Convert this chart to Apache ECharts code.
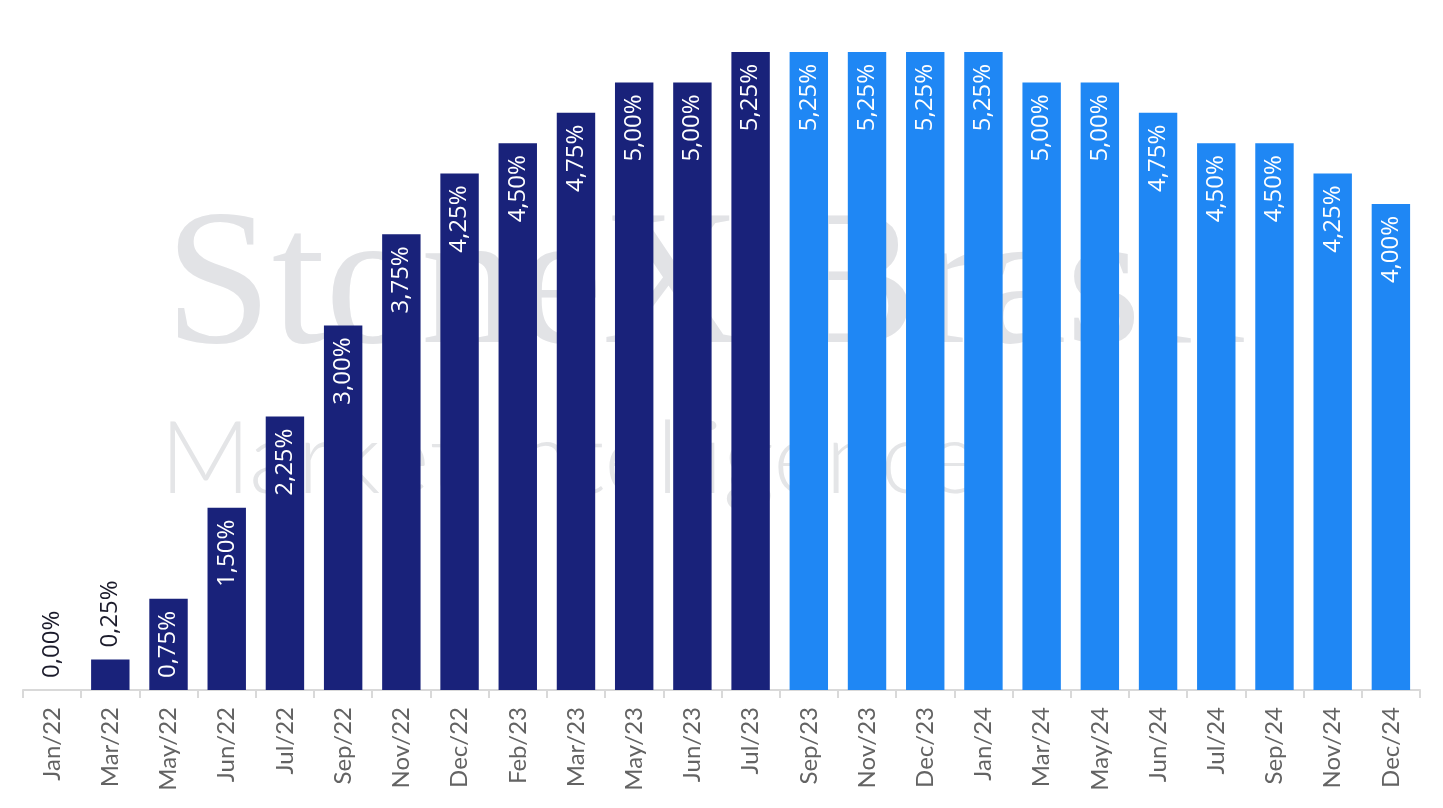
<!DOCTYPE html>
<html>
<head>
<meta charset="utf-8">
<script src="https://cdn.jsdelivr.net/npm/echarts@6/dist/echarts.min.js"></script>
<style>
html,body{margin:0;padding:0;background:#fff;}
#chart{width:1443px;height:808px;}
</style>
</head>
<body>
<div id="chart"></div>
<script>
const categories = ['Jan/22','Mar/22','May/22','Jun/22','Jul/22','Sep/22','Nov/22','Dec/22','Feb/23','Mar/23','May/23','Jun/23','Jul/23','Sep/23','Nov/23','Dec/23','Jan/24','Mar/24','May/24','Jun/24','Jul/24','Sep/24','Nov/24','Dec/24'];
const rates = [0.00,0.25,0.75,1.50,2.25,3.00,3.75,4.25,4.50,4.75,5.00,5.00,5.25,5.25,5.25,5.25,5.25,5.00,5.00,4.75,4.50,4.50,4.25,4.00];
const historicCount = 13;
const watermarkTitle = 'StoneX Brasil';
const watermarkSub = 'Market Intelligence';

const NAVY = '#19227a';
const BLUE = '#1f87f4';

const fmt = v => v.toFixed(2).replace('.', ',') + '%';

const data = rates.map((v, i) => {
  const item = { value: v, itemStyle: { color: i < historicCount ? NAVY : BLUE } };
  if (v < 0.5) {
    item.label = { position: 'top', align: 'left', verticalAlign: 'middle', color: '#1b1b2b', distance: 12 };
  }
  return item;
});

const chart = echarts.init(document.getElementById('chart'));
chart.setOption({
  animation: false,
  backgroundColor: '#ffffff',
  graphic: [
    { type: 'text', left: 165, top: 196, z: -10, silent: true,
      style: { text: watermarkTitle, font: '192px "Liberation Serif", serif', fill: '#e2e3e6' } },
    { type: 'text', left: 160, top: 411, z: -10, silent: true,
      style: { text: watermarkSub, font: '300 100px Lato, sans-serif', fill: '#e4e5e7' } }
  ],
  grid: { left: 23, right: 23, top: 52, bottom: 118, containLabel: false },
  xAxis: {
    type: 'category',
    data: categories,
    boundaryGap: true,
    axisLine: { lineStyle: { color: '#d9d9d9', width: 2 } },
    axisTick: { show: true, length: 8, lineStyle: { color: '#d9d9d9', width: 2 } },
    axisLabel: { rotate: 90, interval: 0, margin: 17, color: '#636363', fontSize: 24, fontFamily: 'Lato, sans-serif' }
  },
  yAxis: { type: 'value', min: 0, max: 5.25, show: false, splitLine: { show: false } },
  series: [{
    type: 'bar',
    data: data,
    barWidth: '66%',
    label: {
      show: true,
      position: 'insideTop',
      rotate: 90,
      align: 'right',
      verticalAlign: 'middle',
      distance: 12,
      color: '#ffffff',
      fontSize: 24,
      fontFamily: '"Open Sans", sans-serif',
      formatter: p => fmt(p.value)
    }
  }]
});
</script>
</body>
</html>
